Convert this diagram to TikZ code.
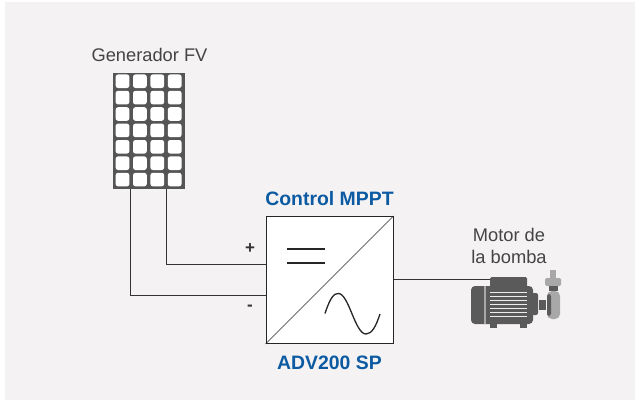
\documentclass[tikz,border=0pt]{standalone}
\usepackage{fontspec}
\setmainfont{Liberation Sans}
\usetikzlibrary{positioning}
\definecolor{panelbg}{HTML}{F4F2F3}
\definecolor{cellgray}{HTML}{555555}
\definecolor{motordark}{HTML}{5A5A5A}
\definecolor{motorlight}{HTML}{A8A8A8}
\definecolor{advblue}{HTML}{0B5AA2}
\definecolor{labelgray}{HTML}{444444}
\tikzset{
    wire/.style={draw=black!80, line width=0.9pt},
    labeltext/.style={font=\fontsize{18.3}{22}\selectfont, text=labelgray, align=center, inner sep=0pt},
    bluetext/.style={font=\fontsize{19.4}{22}\selectfont\bfseries, text=advblue, inner sep=0pt},
    signtext/.style={font=\fontsize{17}{22}\selectfont\bfseries, text=black!80, inner sep=0pt},
    symbolline/.style={draw=black!85, line width=1.3pt}
}
\begin{document}
\begin{tikzpicture}[x=1pt,y=-1pt]
    \useasboundingbox (0,0) rectangle (639,407);
    \fill[white] (0,0) rectangle (639,407);
    \fill[panelbg] (5,2) rectangle (635,400);

    % Solar panel with 4x7 cells
    \fill[cellgray] (113,72.5) rectangle (185,189);
    \foreach \x in {0,1,2,3} {
        \foreach \y in {0,1,2,3,4,5,6} {
            \fill[white, rounded corners=2.5pt] ({115.6+17.4*\x},{74.4+16.4*\y}) rectangle ++(13.8,13.6);
        }
    }
    \coordinate (panelA) at (130.5,189);
    \coordinate (panelB) at (166,189);
    \node[labeltext] (genlabel) at (149.5,54.5) {Generador FV};

    % Converter box
    \node[draw=black!85, fill=white, line width=1pt, minimum width=127pt, minimum height=127pt, inner sep=0pt] (conv) at (329.5,280) {};
    \draw[black!85, line width=0.5pt] (conv.south west) -- (conv.north east);
    \draw[symbolline] (287,249) -- (325,249);
    \draw[symbolline] (287,263) -- (325,263);
    \draw[symbolline] (325,313.5) .. controls (330,298) and (334,293) .. (338.5,293.5)
        .. controls (349,294) and (355,334) .. (366,334)
        .. controls (372,334) and (376,326) .. (380,314);
    \node[bluetext, above=10pt of conv] (ctrllabel) {Control MPPT};
    \node[bluetext, below=12pt of conv] (advlabel) {ADV200 SP};

    % Wires from the panel
    \coordinate (plusin) at (conv.west |- 0,264.5);
    \coordinate (minusin) at (conv.west |- 0,295);
    \draw[wire] (panelB) |- (plusin);
    \draw[wire] (panelA) |- (minusin);
    \node[signtext] (pluslabel) at (250,249) {+};
    \node[signtext] (minuslabel) at (250,308) {-};

    % Motor
    \coordinate (motorin) at (490,279.5);
    \draw[wire] (conv.east |- motorin) -- (motorin);
    \fill[motordark, rounded corners=1.5pt] (490,277) rectangle (527,288);
    \fill[motordark, rounded corners=4pt] (471,286) rectangle (533,324);
    \fill[motordark] (490,320) rectangle (497,328);
    \fill[motordark] (520,320) rectangle (527,328);
    \fill[motordark, rounded corners=2pt] (531,293) rectangle (538,315);
    \fill[motordark] (539,300) rectangle (546,310);
    \fill[motorlight] (484,286) rectangle (486,324);
    \foreach \y in {0,1,...,6} {
        \fill[white!80!motorlight] (490,{291.5+4*\y}) rectangle (527,{293+4*\y});
    }
    % Pump
    \fill[motorlight] (550,270) rectangle (556,278);
    \fill[motorlight, rounded corners=1.5pt] (545,278) rectangle (561,286);
    \fill[motordark] (549,286) rectangle (558,291);
    \fill[motorlight, rounded corners=5pt] (547,291) rectangle (560,319);
    \fill[motordark, rounded corners=2.5pt] (547,294) rectangle (551,316);
    \node[labeltext] (motorlabel) at (509,246) {Motor de\\la bomba};
\end{tikzpicture}
\end{document}
